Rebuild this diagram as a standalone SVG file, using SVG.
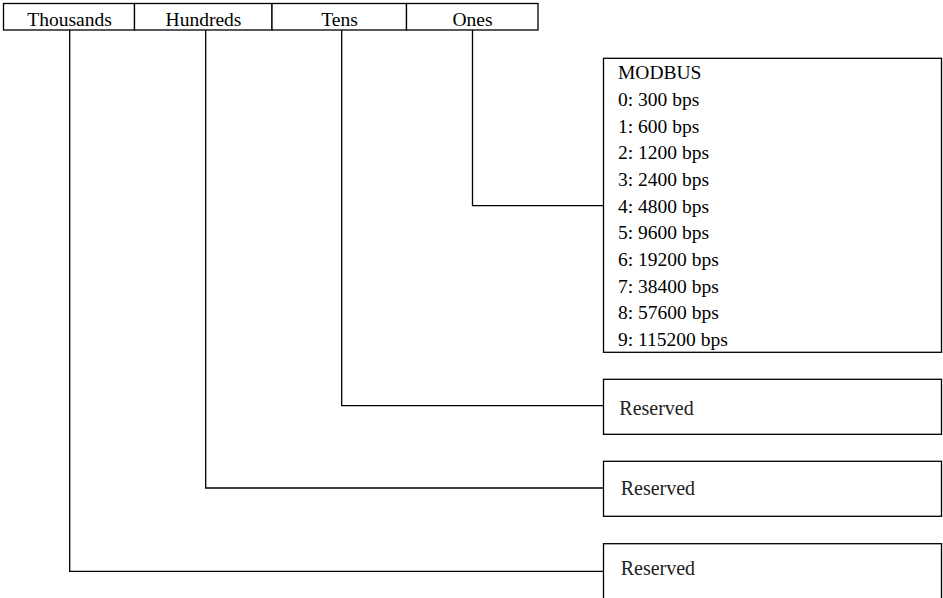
<svg xmlns="http://www.w3.org/2000/svg" width="943" height="598" viewBox="0 0 943 598">
<style>
.b{fill:#fff;stroke:#000;stroke-width:1.3}
.c{fill:none;stroke:#000;stroke-width:1.3}
text{font-family:"Liberation Serif","Times New Roman",serif;font-size:19.5px;fill:#000}
.h{text-anchor:middle}
.r{font-size:20px;fill:#222}
</style>
<rect width="943" height="598" fill="#fff"/>
<g id="connectors">
<polyline class="c" points="472.5,30 472.5,205.7 603.5,205.7"/>
<polyline class="c" points="341.7,30 341.7,405.7 603.5,405.7"/>
<polyline class="c" points="205.7,30 205.7,488 603.5,488"/>
<polyline class="c" points="69.7,30 69.7,571.3 603.5,571.3"/>
</g>
<g id="header">
<g id="thousands"><rect class="b" x="3.5" y="3.5" width="131" height="26.5"/><text class="h" x="69.5" y="26">Thousands</text></g>
<g id="hundreds"><rect class="b" x="134.5" y="3.5" width="137.5" height="26.5"/><text class="h" x="203.5" y="26">Hundreds</text></g>
<g id="tens"><rect class="b" x="272" y="3.5" width="134.5" height="26.5"/><text class="h" x="339.5" y="26">Tens</text></g>
<g id="ones"><rect class="b" x="406.5" y="3.5" width="131.5" height="26.5"/><text class="h" x="472.5" y="26">Ones</text></g>
</g>
<g id="modbus">
<rect class="b" x="603.5" y="58.3" width="338" height="294"/>
<text x="618" y="79.3">MODBUS</text>
<text x="618" y="106">0: 300 bps</text>
<text x="618" y="132.6">1: 600 bps</text>
<text x="618" y="159.3">2: 1200 bps</text>
<text x="618" y="186">3: 2400 bps</text>
<text x="618" y="212.6">4: 4800 bps</text>
<text x="618" y="239.3">5: 9600 bps</text>
<text x="618" y="266">6: 19200 bps</text>
<text x="618" y="292.6">7: 38400 bps</text>
<text x="618" y="319.3">8: 57600 bps</text>
<text x="618" y="346">9: 115200 bps</text>
</g>
<g id="reserved-tens">
<rect class="b" x="603.5" y="379.3" width="338" height="55"/>
<text class="r" x="619.3" y="415">Reserved</text>
</g>
<g id="reserved-hundreds">
<rect class="b" x="603.5" y="461.3" width="338" height="55"/>
<text class="r" x="620.7" y="494.7">Reserved</text>
</g>
<g id="reserved-thousands">
<rect class="b" x="603.5" y="543.7" width="338" height="60"/>
<text class="r" x="620.7" y="575.3">Reserved</text>
</g>
</svg>
